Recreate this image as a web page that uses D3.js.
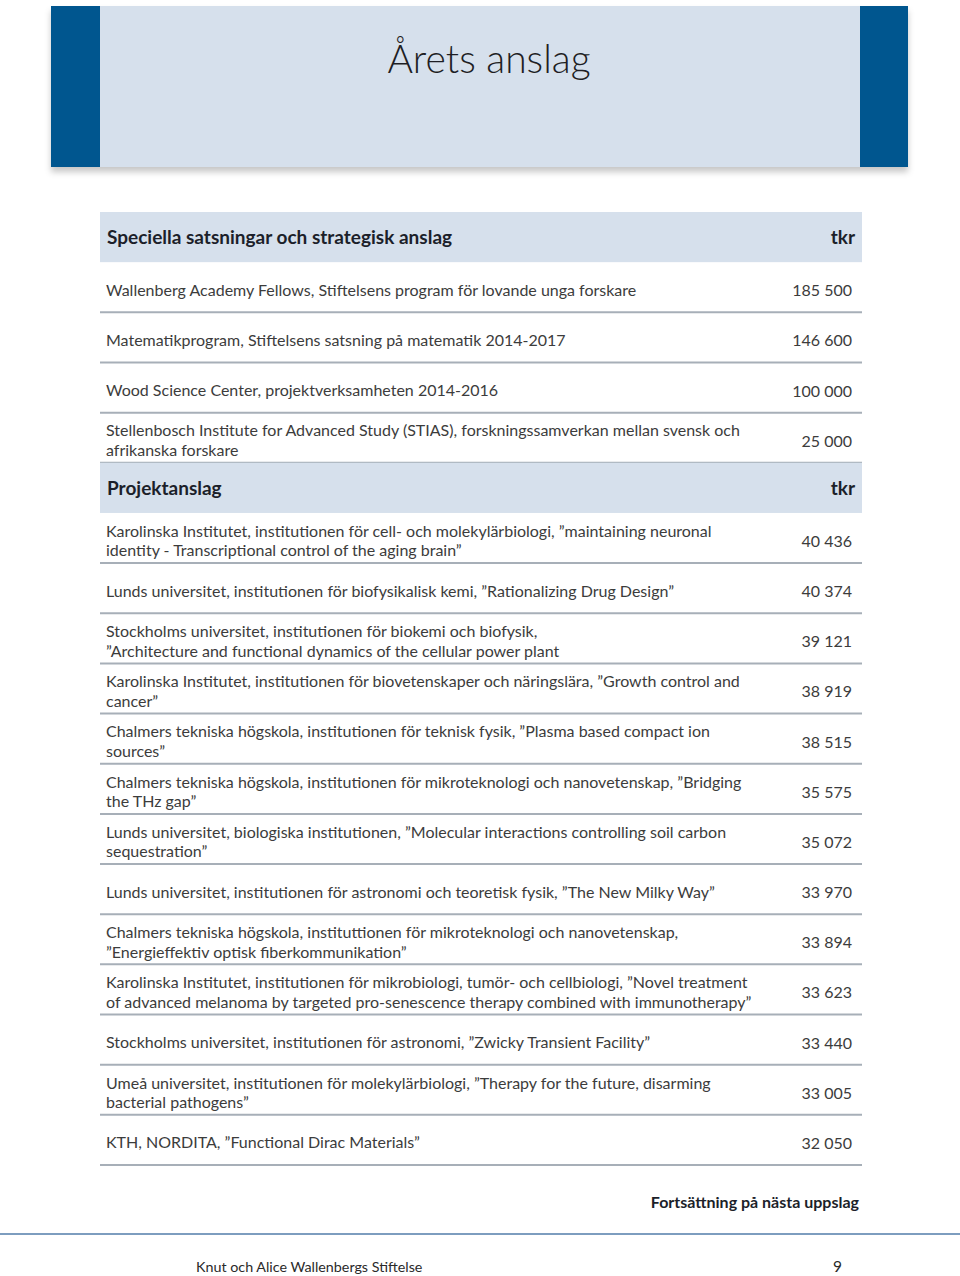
<!DOCTYPE html>
<html lang="sv">
<head>
  <meta charset="UTF-8">
  <title>Årets anslag</title>
  <script src="https://d3js.org/d3.v7.min.js"></script>
  <style>
    body { margin: 0; background: #fff; }
    svg { display: block; }
  </style>
</head>
<body>
  <div id="root"></div>
  <script>
    // data
    const title = 'Årets anslag';
    const unit = 'tkr';
    const section1Title = 'Speciella satsningar och strategisk anslag';
    const section1Labels = [
      ['Wallenberg Academy Fellows, Stiftelsens program för lovande unga forskare'],
      ['Matematikprogram, Stiftelsens satsning på matematik 2014-2017'],
      ['Wood Science Center, projektverksamheten 2014-2016'],
      ['Stellenbosch Institute for Advanced Study (STIAS), forskningssamverkan mellan svensk och', 'afrikanska forskare']
    ];
    const section1Values = [185500, 146600, 100000, 25000];

    const section2Title = 'Projektanslag';
    const section2Labels = [
      ['Karolinska Institutet, institutionen för cell- och molekylärbiologi, ”maintaining neuronal', 'identity - Transcriptional control of the aging brain”'],
      ['Lunds universitet, institutionen för biofysikalisk kemi, ”Rationalizing Drug Design”'],
      ['Stockholms universitet, institutionen för biokemi och biofysik,', '”Architecture and functional dynamics of the cellular power plant'],
      ['Karolinska Institutet, institutionen för biovetenskaper och näringslära, ”Growth control and', 'cancer”'],
      ['Chalmers tekniska högskola, institutionen för teknisk fysik, ”Plasma based compact ion', 'sources”'],
      ['Chalmers tekniska högskola, institutionen för mikroteknologi och nanovetenskap, ”Bridging', 'the THz gap”'],
      ['Lunds universitet, biologiska institutionen, ”Molecular interactions controlling soil carbon', 'sequestration”'],
      ['Lunds universitet, institutionen för astronomi och teoretisk fysik, ”The New Milky Way”'],
      ['Chalmers tekniska högskola, instituttionen för mikroteknologi och nanovetenskap,', '”Energieffektiv optisk fiberkommunikation”'],
      ['Karolinska Institutet, institutionen för mikrobiologi, tumör- och cellbiologi, ”Novel treatment', 'of advanced melanoma by targeted pro-senescence therapy combined with immunotherapy”'],
      ['Stockholms universitet, institutionen för astronomi, ”Zwicky Transient Facility”'],
      ['Umeå universitet, institutionen för molekylärbiologi, ”Therapy for the future, disarming', 'bacterial pathogens”'],
      ['KTH, NORDITA, ”Functional Dirac Materials”']
    ];
    const section2Values = [40436, 40374, 39121, 38919, 38515, 35575, 35072, 33970, 33894, 33623, 33440, 33005, 32050];

    const continued = 'Fortsättning på nästa uppslag';
    const footerText = 'Knut och Alice Wallenbergs Stiftelse';
    const pageNumber = '9';

    // build one list of table rows
    const rows = [];
    rows.push({ type: 'head', label: [section1Title] });
    section1Labels.forEach((l, i) => rows.push({ type: 'row', label: l, value: section1Values[i] }));
    rows.push({ type: 'head', label: [section2Title] });
    section2Labels.forEach((l, i) => rows.push({ type: 'row', label: l, value: section2Values[i] }));

    const W = 960, H = 1276;
    const font = 'Lato, "Open Sans", sans-serif';
    const fmt = v => d3.format(',')(v).replace(/,/g, '\u2005');

    const svg = d3.select('#root').append('svg').attr('width', W).attr('height', H);

    const defs = svg.append('defs');
    const shadow = defs.append('filter').attr('id', 'shadow')
      .attr('x', '-5%').attr('y', '-5%').attr('width', '110%').attr('height', '120%');
    shadow.append('feDropShadow')
      .attr('dx', 0).attr('dy', 5).attr('stdDeviation', 3)
      .attr('flood-color', '#000').attr('flood-opacity', 0.22);

    // title banner
    const banner = svg.append('g');
    banner.append('rect').attr('x', 51).attr('y', 6).attr('width', 857).attr('height', 161)
      .attr('fill', '#d6e0ec').attr('filter', 'url(#shadow)');
    banner.append('rect').attr('x', 51).attr('y', 6).attr('width', 49).attr('height', 161).attr('fill', '#00568f');
    banner.append('rect').attr('x', 860).attr('y', 6).attr('width', 48).attr('height', 161).attr('fill', '#00568f');
    banner.append('text').attr('x', 489).attr('y', 73)
      .attr('text-anchor', 'middle')
      .style('font-family', font).style('font-weight', 300).style('font-size', '39px')
      .attr('fill', '#1e1e24').text(title);

    // table
    const x0 = 100, x1 = 862;
    const y = d3.scaleBand().domain(d3.range(rows.length)).range([212, 1165]);
    const bw = y.bandwidth();

    const g = svg.append('g');
    const row = g.selectAll('g.row').data(rows).join('g')
      .attr('class', 'row')
      .attr('transform', (d, i) => `translate(0,${y(i)})`);

    row.filter(d => d.type === 'head').append('rect')
      .attr('x', x0).attr('y', 0).attr('width', x1 - x0).attr('height', bw)
      .attr('fill', '#d6e0ec');

    row.filter(d => d.type === 'head').append('text')
      .attr('x', 107).attr('y', bw / 2 + 7)
      .style('font-family', font).style('font-weight', 700).style('font-size', '19px')
      .attr('fill', '#1c1f2a').text(d => d.label[0]);

    row.filter(d => d.type === 'head').append('text')
      .attr('x', 855).attr('y', bw / 2 + 7).attr('text-anchor', 'end')
      .style('font-family', font).style('font-weight', 700).style('font-size', '19px')
      .attr('fill', '#1c1f2a').text(unit);

    const data = row.filter(d => d.type === 'row');
    data.append('line')
      .attr('x1', x0).attr('x2', x1).attr('y1', bw).attr('y2', bw)
      .attr('stroke', '#a7afb8').attr('stroke-width', 2);

    data.each(function (d) {
      const sel = d3.select(this);
      const n = d.label.length;
      const lh = 19.5;
      d.label.forEach((line, k) => {
        sel.append('text')
          .attr('x', 106)
          .attr('y', bw / 2 + 8.5 + (k - (n - 1) / 2) * lh)
          .style('font-family', font).style('font-size', '16px')
          .attr('fill', '#3c3c3c').text(line);
      });
      sel.append('text')
        .attr('x', 852).attr('y', bw / 2 + 9).attr('text-anchor', 'end')
        .style('font-family', font).style('font-size', '16px')
        .attr('fill', '#3c3c3c').text(fmt(d.value));
    });

    // continued note
    svg.append('text').attr('x', 859).attr('y', 1208).attr('text-anchor', 'end')
      .style('font-family', font).style('font-weight', 700).style('font-size', '16px')
      .attr('fill', '#1c1f2a').text(continued);

    // footer
    svg.append('line').attr('x1', 0).attr('x2', W).attr('y1', 1234).attr('y2', 1234)
      .attr('stroke', '#7d9dbf').attr('stroke-width', 2);
    svg.append('text').attr('x', 196).attr('y', 1272)
      .style('font-family', font).style('font-size', '14.3px')
      .attr('fill', '#2a2a2a').text(footerText);
    svg.append('text').attr('x', 842).attr('y', 1272).attr('text-anchor', 'end')
      .style('font-family', font).style('font-size', '15.5px')
      .attr('fill', '#2a2a2a').text(pageNumber);
  </script>
</body>
</html>
